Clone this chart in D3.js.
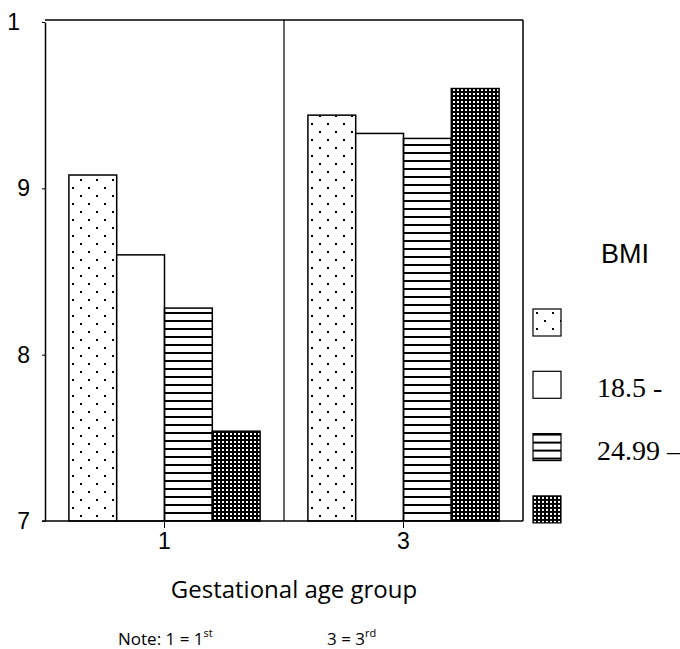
<!DOCTYPE html>
<html>
<head>
    <title>BMI by gestational age group</title>
    <meta charset="UTF-8">
    <script src="https://cdn.jsdelivr.net/npm/d3@7"></script>
    <style>
        body { margin: 0; background: #fff; }
        svg { display: block; }
        .sans { font-family: "Liberation Sans", Arial, sans-serif; }
        .serif { font-family: "Liberation Serif", "Times New Roman", serif; }
        .calib { font-family: "Open Sans", sans-serif; }
    </style>
</head>
<body>
    <svg id="chart"></svg>
    <script>

        // data
        const groups = ["1", "3"];
        const series = ["bmi1", "bmi2", "bmi3", "bmi4"];
        const group1Values = [9.08, 8.60, 8.28, 7.54];
        const group3Values = [9.44, 9.33, 9.30, 9.60];
        const yTicks = [7, 8, 9, 10];
        const yTickLabels = ["7", "8", "9", "1"];
        const legendLabels = ["", "18.5 -", "24.99 \u2013", ""];

        const width = 680, height = 649;
        const margin = {top: 20, right: 157, bottom: 128, left: 45};

        const svg = d3.select("#chart")
            .attr("width", width)
            .attr("height", height);

        // patterns
        const defs = svg.append("defs");

        const dots = defs.append("pattern")
            .attr("id", "dots")
            .attr("patternUnits", "userSpaceOnUse")
            .attr("width", 16).attr("height", 16);
        dots.append("rect").attr("x", 3).attr("y", 3).attr("width", 2).attr("height", 2).attr("fill", "#000");
        dots.append("rect").attr("x", 11).attr("y", 11).attr("width", 2).attr("height", 2).attr("fill", "#000");

        const hlines = defs.append("pattern")
            .attr("id", "hlines")
            .attr("patternUnits", "userSpaceOnUse")
            .attr("width", 8).attr("height", 8);
        hlines.append("rect").attr("x", 0).attr("y", 0).attr("width", 8).attr("height", 2).attr("fill", "#000");

        const dense = defs.append("pattern")
            .attr("id", "dense")
            .attr("patternUnits", "userSpaceOnUse")
            .attr("width", 4).attr("height", 4);
        dense.append("rect").attr("width", 4).attr("height", 4).attr("fill", "#000");
        dense.append("rect").attr("x", 1).attr("y", 1).attr("width", 2).attr("height", 2).attr("fill", "#fff");

        const fills = ["url(#dots)", "#fff", "url(#hlines)", "url(#dense)"];

        const x0 = d3.scaleBand()
            .domain(groups)
            .range([margin.left, width - margin.right])
            .padding(0);

        const x1 = d3.scaleBand()
            .domain(series)
            .range([0, x0.bandwidth()])
            .paddingInner(0)
            .paddingOuter(0.5);

        const y = d3.scaleLinear()
            .domain([7, 10])
            .range([height - margin.bottom, margin.top + 2]);

        const data = [
            {group: "1", values: group1Values},
            {group: "3", values: group3Values}
        ];

        // bars
        const g = svg.selectAll(".grp")
            .data(data)
            .join("g")
            .attr("class", "grp")
            .attr("transform", d => `translate(${x0(d.group)},0)`);

        g.selectAll("rect")
            .data(d => d.values.map((v, i) => ({key: series[i], value: v, i: i})))
            .join("rect")
            .attr("x", d => x1(d.key))
            .attr("y", d => y(d.value))
            .attr("width", x1.bandwidth())
            .attr("height", d => y(7) - y(d.value))
            .attr("fill", d => fills[d.i])
            .attr("stroke", "#000")
            .attr("stroke-width", 1.5);

        // frame and group divider
        const plotTop = margin.top, plotBottom = height - margin.bottom;
        const plotLeft = margin.left, plotRight = width - margin.right;
        svg.append("line").attr("x1", plotLeft).attr("x2", plotRight).attr("y1", plotTop).attr("y2", plotTop)
            .attr("stroke", "#000").attr("stroke-width", 1.5);
        svg.append("line").attr("x1", plotRight).attr("x2", plotRight).attr("y1", plotTop).attr("y2", plotBottom)
            .attr("stroke", "#000").attr("stroke-width", 1.5);
        svg.append("line").attr("x1", x0("3")).attr("x2", x0("3")).attr("y1", plotTop).attr("y2", plotBottom)
            .attr("stroke", "#000").attr("stroke-width", 1.2);

        // y axis
        const yAxis = svg.append("g")
            .attr("transform", `translate(${plotLeft},0)`)
            .call(d3.axisLeft(y).tickValues(yTicks).tickSize(3).tickSizeOuter(0)
                .tickFormat((d, i) => yTickLabels[i]));
        yAxis.attr("font-family", null).attr("font-size", null);
        yAxis.select(".domain").attr("stroke-width", 1.5);
        yAxis.selectAll("text")
            .attr("class", "sans")
            .style("font-size", "23px")
            .attr("fill", "#000")
            .attr("x", -15);
        yAxis.selectAll(".tick").filter(d => d === 10).select("text").attr("x", -25);

        // x axis
        const xAxis = svg.append("g")
            .attr("transform", `translate(0,${plotBottom})`)
            .call(d3.axisBottom(x0).tickSize(7).tickSizeOuter(0));
        xAxis.attr("font-family", null).attr("font-size", null);
        xAxis.select(".domain").attr("d", `M${plotLeft - 3},0H${plotRight}`).attr("stroke-width", 1.5);
        xAxis.selectAll("text")
            .attr("class", "sans")
            .style("font-size", "23px")
            .attr("fill", "#000")
            .attr("y", 12);

        // axis title
        svg.append("text")
            .attr("class", "calib")
            .attr("x", 294)
            .attr("y", 598)
            .attr("text-anchor", "middle")
            .style("font-size", "24px")
            .text("Gestational age group");

        // note
        const note1 = svg.append("text")
            .attr("class", "calib")
            .attr("x", 118).attr("y", 645)
            .style("font-size", "17px");
        note1.append("tspan").text("Note: 1 = 1");
        note1.append("tspan").attr("dy", -8).style("font-size", "11px").text("st");

        const note3 = svg.append("text")
            .attr("class", "calib")
            .attr("x", 327).attr("y", 645)
            .style("font-size", "17px");
        note3.append("tspan").text("3 = 3");
        note3.append("tspan").attr("dy", -8).style("font-size", "11px").text("rd");

        // legend
        svg.append("text")
            .attr("class", "sans")
            .attr("x", 601).attr("y", 263)
            .style("font-size", "27px")
            .text("BMI");

        const legend = svg.selectAll(".leg")
            .data(series)
            .join("g")
            .attr("class", "leg")
            .attr("transform", (d, i) => `translate(533,${309 + i * 62.3})`);

        legend.append("rect")
            .attr("width", 28).attr("height", 27)
            .attr("fill", (d, i) => fills[i])
            .attr("stroke", "#000")
            .attr("stroke-width", 1.2);

        legend.append("text")
            .attr("class", "serif")
            .attr("x", 64).attr("y", 26)
            .style("font-size", "28px")
            .text((d, i) => legendLabels[i]);

    </script>
</body>
</html>
